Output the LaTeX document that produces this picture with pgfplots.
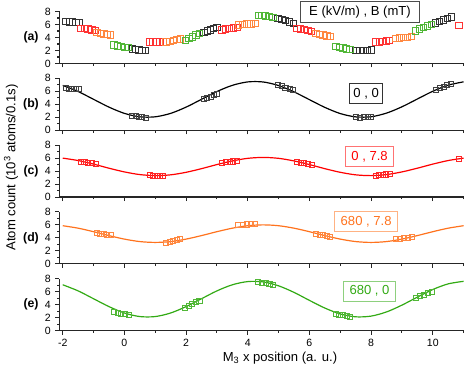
\documentclass[border=0pt]{standalone}
\usepackage{fontspec}
\setmainfont{Liberation Sans}
\usepackage{pgfplots}
\usepackage{pgfplotstable}
\pgfplotsset{compat=1.18}

\definecolor{cred}{RGB}{255,0,0}
\definecolor{corange}{RGB}{255,115,30}
\definecolor{cgreen}{RGB}{50,170,20}

% measured points (x position, counts in 10^3)
\pgfplotstableread{
x y
-1.90 6.50
-1.79 6.42
-1.69 6.40
-1.58 6.36
-1.48 6.32
0.25 2.25
0.36 2.18
0.47 2.10
0.57 2.05
0.68 1.98
2.57 4.80
2.68 5.00
2.79 5.20
2.89 5.38
3.00 5.55
4.98 6.95
5.10 6.78
5.22 6.60
5.35 6.40
5.47 6.20
7.51 2.00
7.63 1.98
7.75 2.00
7.88 2.02
8.00 2.08
10.09 6.28
10.22 6.50
10.35 6.72
10.47 6.95
10.60 7.15
}\blackdata

\pgfplotstableread{
x y
-1.42 5.45
-1.30 5.40
-1.18 5.30
-1.06 5.20
-0.94 5.10
0.81 3.35
0.92 3.33
1.04 3.30
1.15 3.30
1.26 3.33
3.16 5.20
3.28 5.35
3.41 5.45
3.53 5.50
3.66 5.52
5.59 5.42
5.71 5.33
5.83 5.22
5.95 5.08
6.07 4.95
8.14 3.30
8.26 3.35
8.37 3.42
8.49 3.50
8.60 3.60
10.85 5.85
}\reddata

\pgfplotstableread{
x y
-0.89 4.75
-0.78 4.66
-0.67 4.56
-0.56 4.47
-0.45 4.40
1.35 3.30
1.47 3.42
1.58 3.55
1.70 3.67
1.81 3.80
3.69 5.95
3.83 6.02
3.97 6.08
4.10 6.12
4.24 6.15
6.21 4.65
6.33 4.52
6.44 4.40
6.56 4.28
6.67 4.15
8.79 3.85
8.92 3.92
9.05 3.98
9.18 4.05
9.31 4.15
}\orangedata

\pgfplotstableread{
x y
-0.34 2.85
-0.22 2.72
-0.11 2.62
0.01 2.52
0.13 2.45
1.97 3.55
2.09 3.85
2.20 4.12
2.32 4.40
2.43 4.62
4.34 7.45
4.46 7.42
4.58 7.35
4.70 7.22
4.82 7.08
6.86 2.60
6.97 2.48
7.09 2.38
7.20 2.28
7.31 2.20
9.44 5.00
9.57 5.30
9.70 5.55
9.83 5.80
9.96 6.00
}\greendata

% fitted curves
\pgfplotstableread{
x y
-2 6.91
-1.5 5.96
-1 4.76
-0.5 3.56
0 2.60
0.5 2.07
1 2.07
1.5 2.60
2 3.56
2.5 4.76
3 5.96
3.5 6.91
4 7.44
4.5 7.43
5 6.88
5.5 5.91
6 4.71
6.5 3.52
7 2.57
7.5 2.06
8 2.08
8.5 2.64
9 3.61
9.5 4.81
10 6.00
10.5 6.94
11 7.45
}\blackfit

\pgfplotstableread{
x y
-2 5.99
-1.5 5.62
-1 5.07
-0.5 4.44
0 3.87
0.5 3.46
1 3.30
1.5 3.42
2 3.81
2.5 4.37
3 5.00
3.5 5.56
4 5.96
4.5 6.10
5 5.96
5.5 5.56
6 5.00
6.5 4.37
7 3.81
7.5 3.42
8 3.30
8.5 3.46
9 3.87
9.5 4.44
10 5.07
10.5 5.62
11 5.99
}\redfit

\pgfplotstableread{
x y
-2 5.87
-1.5 5.49
-1 4.95
-0.5 4.35
0 3.81
0.5 3.43
1 3.30
1.5 3.43
2 3.81
2.5 4.35
3 4.95
3.5 5.49
4 5.87
4.5 6.00
5 5.87
5.5 5.49
6 4.95
6.5 4.35
7 3.81
7.5 3.43
8 3.30
8.5 3.43
9 3.81
9.5 4.35
10 4.95
10.5 5.49
11 5.87
}\orangefit

\pgfplotstableread{
x y
-2 7.06
-1.5 6.12
-1 4.91
-0.5 3.70
0 2.72
0.5 2.17
1 2.17
1.5 2.72
2 3.70
2.5 4.91
3 6.12
3.5 7.06
4 7.55
4.5 7.50
5 6.90
5.5 5.89
6 4.66
6.5 3.48
7 2.57
7.5 2.13
8 2.24
8.5 2.88
9 3.93
9.5 5.16
10 6.33
10.5 7.20
11 7.59
}\greenfit

\pgfplotsset{
  panel/.style={
    scale only axis, width=303.2pt, height=39pt,
    anchor=south west,
    xmin=-2.11, xmax=11, ymin=0, ymax=8,
    axis x line*=bottom, axis y line*=left,
    axis line style={-, line width=0.9pt, black!85},
    xtick={-2,0,...,10}, minor xtick={-1,1,...,11},
    ytick={0,2,...,8}, minor ytick={1,3,5,7},
    tick align=outside, major tick length=3pt, minor tick length=1.7pt,
    every tick/.style={line width=0.8pt, black!85},
    xticklabels={},
    tick label style={font=\fontsize{7.9}{9}\selectfont},
    /pgf/number format/assume math mode=true,
    clip=false,
  },
  pts/.style={only marks, mark=square, mark size=1.9pt, mark options={line width=0.5pt}},
  fit/.style={smooth, no marks, line width=0.9pt},
}
\tikzset{
  box/.style={font=\fontsize{9.8}{11}\selectfont, fill=white, line width=0.7pt,
    inner xsep=4.5pt, inner ysep=0pt, minimum height=15pt},
}

\begin{document}
\begin{tikzpicture}
\useasboundingbox (0,0) rectangle (348.75pt,-276pt);

% (a) all data
\begin{axis}[panel, at={(44.5pt,-47.6pt)}]
\addplot[pts, mark size=2.4pt, black!80] table {\blackdata};
\addplot[pts, mark size=2.4pt, cred!80] table {\reddata};
\addplot[pts, mark size=2.4pt, corange!85] table {\orangedata};
\addplot[pts, mark size=2.4pt, cgreen!85] table {\greendata};
\node[box, draw=black!70, inner xsep=6.2pt, minimum height=15.75pt] at (axis cs:7.64,7.95) {E (kV/m) , B (mT)};
\end{axis}

% (b)
\begin{axis}[panel, at={(44.5pt,-97.7pt)}]
\addplot[fit, black] table {\blackfit};
\addplot[pts, black!75] table {\blackdata};
\node[box, draw=black!80, inner xsep=3pt] at (axis cs:7.84,5.66) {0 , 0};
\end{axis}

% (c)
\begin{axis}[panel, at={(44.5pt,-147.8pt)}]
\addplot[fit, cred] table {\redfit};
\addplot[pts, cred!85] table {\reddata};
\node[box, draw=cred!55, text=cred] at (axis cs:7.95,6.17) {0 , 7.8};
\end{axis}

% (d)
\begin{axis}[panel, at={(44.5pt,-197.9pt)}]
\addplot[fit, corange] table {\orangefit};
\addplot[pts, corange!85] table {\orangedata};
\node[box, draw=corange!55, text=corange] at (axis cs:7.84,6.52) {680 , 7.8};
\end{axis}

% (e)
\begin{axis}[panel, at={(44.5pt,-248.0pt)}, xticklabels={-2,0,2,4,6,8,10}]
\addplot[fit, cgreen] table {\greenfit};
\addplot[pts, cgreen!85] table {\greendata};
\node[box, draw=cgreen!55, text=cgreen] at (axis cs:7.95,6.1) {680 , 0};
\end{axis}

\begin{scope}[every node/.style={font=\fontsize{9.2}{11}\selectfont\bfseries}]
\node at (23.25pt,-28.1pt) {(a)};
\node at (23.25pt,-78.2pt) {(b)};
\node at (23.25pt,-128.3pt) {(c)};
\node at (23.25pt,-178.4pt) {(d)};
\node at (23.25pt,-228.5pt) {(e)};
\end{scope}

\node[font=\fontsize{9.8}{11}\selectfont] at (210pt,-268.5pt) {M\textsubscript{3} x position (a. u.)};
\node[font=\fontsize{9.8}{11}\selectfont, rotate=90] at (8.25pt,-125.6pt) {Atom count (10\textsuperscript{3} atoms/0.1s)};
\end{tikzpicture}
\end{document}
